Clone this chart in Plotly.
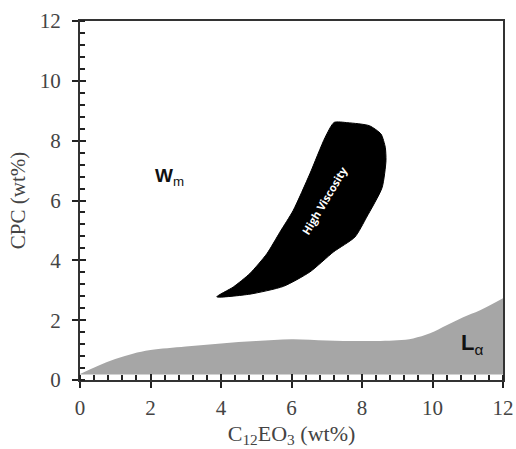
import plotly.graph_objects as go

# L-alpha region upper boundary
la_x = [0, 0.5, 1, 1.5, 2, 3, 4, 5, 6, 7, 8, 9, 9.45, 9.93, 10.4, 10.87, 11.35, 12]
la_y = [0.2, 0.47, 0.7, 0.88, 1.0, 1.12, 1.22, 1.3, 1.36, 1.32, 1.3, 1.33, 1.39, 1.56, 1.83, 2.1, 2.33, 2.73]
la_base = 0.18

# High viscosity region outline
hv_x = [3.88, 4.35, 4.82, 5.30, 5.67, 6.05, 6.52, 6.95, 7.21, 7.6, 8.21, 8.54, 8.66, 8.68,
        8.57, 8.13, 7.8, 7.19, 6.52, 5.77, 4.82, 3.88]
hv_y = [2.78, 3.11, 3.56, 4.22, 4.94, 5.67, 6.89, 8.1, 8.61, 8.6, 8.5, 8.22, 7.78, 7.33,
        6.43, 5.44, 4.78, 4.28, 3.61, 3.13, 2.87, 2.78]

major_ticks = [0, 2, 4, 6, 8, 10, 12]

fig = go.Figure()

fig.add_trace(go.Scatter(x=[la_x[0], la_x[-1]], y=[la_base, la_base], mode="lines",
                         line=dict(width=0, color="rgba(0,0,0,0)"), showlegend=False,
                         hoverinfo="skip"))
fig.add_trace(go.Scatter(x=la_x, y=la_y, mode="lines", fill="tonexty",
                         fillcolor="#a6a6a6", line=dict(width=0, color="#a6a6a6", shape="spline"),
                         showlegend=False))
fig.add_trace(go.Scatter(x=hv_x, y=hv_y, mode="lines", fill="toself", fillcolor="black",
                         line=dict(width=1, color="black", shape="spline", smoothing=0.6),
                         showlegend=False))
fig.add_trace(go.Scatter(x=[None], y=[None], xaxis="x2", yaxis="y2", showlegend=False))

serif = "Liberation Serif, Times New Roman, serif"
tickfont = dict(family=serif, size=21, color="#444")

fig.update_layout(
    width=516, height=449,
    margin=dict(l=80, r=13, t=21, b=69),
    plot_bgcolor="white", paper_bgcolor="white",
    xaxis=dict(range=[0, 12], tickvals=major_ticks, ticks="outside", ticklen=6, tickwidth=2,
               tickcolor="#222", showline=True, linewidth=2, linecolor="#333", mirror=True,
               showgrid=False, zeroline=False, tickfont=tickfont, automargin=False,
               ticklabelstandoff=2,
               minor=dict(dtick=0.4, ticks="inside", ticklen=5, tickwidth=1.5, tickcolor="#222"),
               title=dict(text="C<sub>12</sub>EO<sub>3</sub> (wt%)",
                          font=dict(family=serif, size=22, color="#444"), standoff=6)),
    yaxis=dict(range=[0, 12], tickvals=major_ticks, ticks="outside", ticklen=6, tickwidth=2,
               tickcolor="#222", showline=True, linewidth=2, linecolor="#333", mirror=True,
               showgrid=False, zeroline=False, tickfont=tickfont, automargin=False,
               ticklabelstandoff=7,
               minor=dict(dtick=0.4, ticks="inside", ticklen=5, tickwidth=1.5, tickcolor="#222"),
               title=dict(text="CPC (wt%)", font=dict(family=serif, size=21, color="#444"),
                          standoff=8)),
    xaxis2=dict(range=[0, 12], overlaying="x", anchor="y", side="bottom", tickvals=major_ticks,
                ticks="inside", ticklen=6, tickwidth=2, tickcolor="#222", showticklabels=False,
                showline=False, showgrid=False, zeroline=False, automargin=False),
    yaxis2=dict(range=[0, 12], overlaying="y", anchor="x", side="left", tickvals=major_ticks,
                ticks="inside", ticklen=6, tickwidth=2, tickcolor="#222", showticklabels=False,
                showline=False, showgrid=False, zeroline=False, automargin=False),
    annotations=[
        dict(x=2.55, y=6.8, xref="x", yref="y", text="<b>W</b><sub>m</sub>", showarrow=False,
             font=dict(family="Liberation Sans, Arial, sans-serif", size=19, color="#111")),
        dict(x=11.12, y=1.2, xref="x", yref="y", text="<b>L</b><sub>α</sub>", showarrow=False,
             font=dict(family="Liberation Sans, Arial, sans-serif", size=22, color="#111")),
        dict(x=6.93, y=6.0, xref="x", yref="y", text="<b>High Viscosity</b>", showarrow=False,
             textangle=-59, font=dict(family="Open Sans, sans-serif", size=11, color="white")),
    ],
)

fig.write_html("out.html", config={"displayModeBar": False},
               post_script="document.body.style.margin='0';")
